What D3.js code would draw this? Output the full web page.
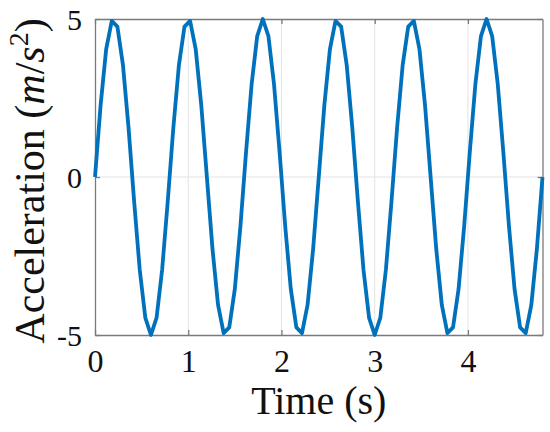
<!DOCTYPE html>
<html>
<head>
<meta charset="utf-8">
<script src="https://cdn.jsdelivr.net/npm/d3@7"></script>
<style>
  html, body { margin: 0; padding: 0; background: #fff; }
  svg { display: block; }
  svg text { font-family: "Liberation Serif", "Times New Roman", "DejaVu Serif", serif !important; fill: #111; }
</style>
</head>
<body>
<svg id="chart" width="550" height="432"></svg>
<script>
// Time samples (s)
const time = [
  0.00,0.06,0.12,0.18,0.24,0.30,0.36,0.42,0.48,0.54,
  0.60,0.66,0.72,0.78,0.84,0.90,0.96,1.02,1.08,1.14,
  1.20,1.26,1.32,1.38,1.44,1.50,1.56,1.62,1.68,1.74,
  1.80,1.86,1.92,1.98,2.04,2.10,2.16,2.22,2.28,2.34,
  2.40,2.46,2.52,2.58,2.64,2.70,2.76,2.82,2.88,2.94,
  3.00,3.06,3.12,3.18,3.24,3.30,3.36,3.42,3.48,3.54,
  3.60,3.66,3.72,3.78,3.84,3.90,3.96,4.02,4.08,4.14,
  4.20,4.26,4.32,4.38,4.44,4.50,4.56,4.62,4.68,4.74,
  4.80
];
// Acceleration (m/s^2)
const acceleration = [
  0, 2.27, 4.05, 4.94, 4.76, 3.54, 1.55, -0.78, -2.94, -4.46,
  -5, -4.46, -2.94, -0.78, 1.55, 3.54, 4.76, 4.94, 4.05, 2.27,
  0, -2.27, -4.05, -4.94, -4.76, -3.54, -1.55, 0.78, 2.94, 4.46,
  5, 4.46, 2.94, 0.78, -1.55, -3.54, -4.76, -4.94, -4.05, -2.27,
  0, 2.27, 4.05, 4.94, 4.76, 3.54, 1.55, -0.78, -2.94, -4.46,
  -5, -4.46, -2.94, -0.78, 1.55, 3.54, 4.76, 4.94, 4.05, 2.27,
  0, -2.27, -4.05, -4.94, -4.76, -3.54, -1.55, 0.78, 2.94, 4.46,
  5, 4.46, 2.94, 0.78, -1.55, -3.54, -4.76, -4.94, -4.05, -2.27,
  0
];
const xTicks = [0, 1, 2, 3, 4];
const yTicks = [-5, 0, 5];
const xLabel = "Time (s)";

const svg = d3.select("#chart");
const margin = {left: 95, right: 7.5, top: 19, bottom: 97};
const W = 550, H = 432;
const x = d3.scaleLinear().domain([0, 4.8]).range([margin.left, W - margin.right]);
const y = d3.scaleLinear().domain([-5, 5]).range([H - margin.bottom, margin.top]);

const axisColor = "#7a7a7a";
const gridColor = "#e3e3e3";
const fam = '"Liberation Serif", "Times New Roman", "DejaVu Serif", serif';

// grid
svg.append("g").selectAll("line").data(xTicks.filter(d => d > 0)).join("line")
  .attr("x1", d => x(d)).attr("x2", d => x(d))
  .attr("y1", y(-5)).attr("y2", y(5))
  .attr("stroke", gridColor).attr("stroke-width", 1);
svg.append("g").selectAll("line").data(yTicks.filter(d => d > -5 && d < 5)).join("line")
  .attr("x1", x(0)).attr("x2", x(4.8))
  .attr("y1", d => y(d)).attr("y2", d => y(d))
  .attr("stroke", gridColor).attr("stroke-width", 1);

// axes with inward ticks
const fmt = d => String(d);
const axB = svg.append("g").attr("transform", `translate(0,${y(-5)})`)
  .call(d3.axisBottom(x).tickValues(xTicks).tickSizeInner(-5).tickSizeOuter(0).tickFormat(fmt).tickPadding(14));
const axT = svg.append("g").attr("transform", `translate(0,${y(5)})`)
  .call(d3.axisTop(x).tickValues(xTicks).tickSizeInner(-5).tickSizeOuter(0).tickFormat(""));
const axL = svg.append("g").attr("transform", `translate(${x(0)},0)`)
  .call(d3.axisLeft(y).tickValues(yTicks).tickSizeInner(-5).tickSizeOuter(0).tickFormat(fmt).tickPadding(13));
const axR = svg.append("g").attr("transform", `translate(${x(4.8)},0)`)
  .call(d3.axisRight(y).tickValues(yTicks).tickSizeInner(-5).tickSizeOuter(0).tickFormat(""));

[axB, axT, axL, axR].forEach(g => {
  g.attr("font-family", fam);
  g.selectAll(".domain").attr("stroke", axisColor).attr("stroke-width", 1.3);
  g.selectAll(".tick line").attr("stroke", axisColor).attr("stroke-width", 1.3);
});
axB.selectAll(".tick text").attr("font-size", 32).style("font-family", fam).attr("fill", "#111");
axL.selectAll(".tick text").attr("font-size", 30).style("font-family", fam).attr("fill", "#111")
  .attr("dy", "0.36em");

// line
const line = d3.line().x((d, i) => x(time[i])).y(d => y(d));
svg.append("path").datum(acceleration)
  .attr("d", line)
  .attr("fill", "none")
  .attr("stroke", "#0072BD")
  .attr("stroke-width", 3.8)
  .attr("stroke-linejoin", "round");

// labels
svg.append("text")
  .attr("x", (x(0) + x(4.8)) / 2).attr("y", 414)
  .attr("text-anchor", "middle").attr("font-size", 40)
  .style("font-family", fam)
  .text(xLabel);

const yl = svg.append("text")
  .attr("transform", `translate(44,${(y(-5) + y(5)) / 2 + 4}) rotate(-90)`)
  .attr("text-anchor", "middle").attr("font-size", 42)
  .style("font-family", fam);
yl.append("tspan").text("Acceleration (");
yl.append("tspan").attr("font-style", "italic").text("m");
yl.append("tspan").text("/");
yl.append("tspan").attr("font-style", "italic").text("s");
yl.append("tspan").attr("font-size", 28).attr("dy", -16).text("2");
yl.append("tspan").attr("dy", 16).text(")");
</script>
</body>
</html>
